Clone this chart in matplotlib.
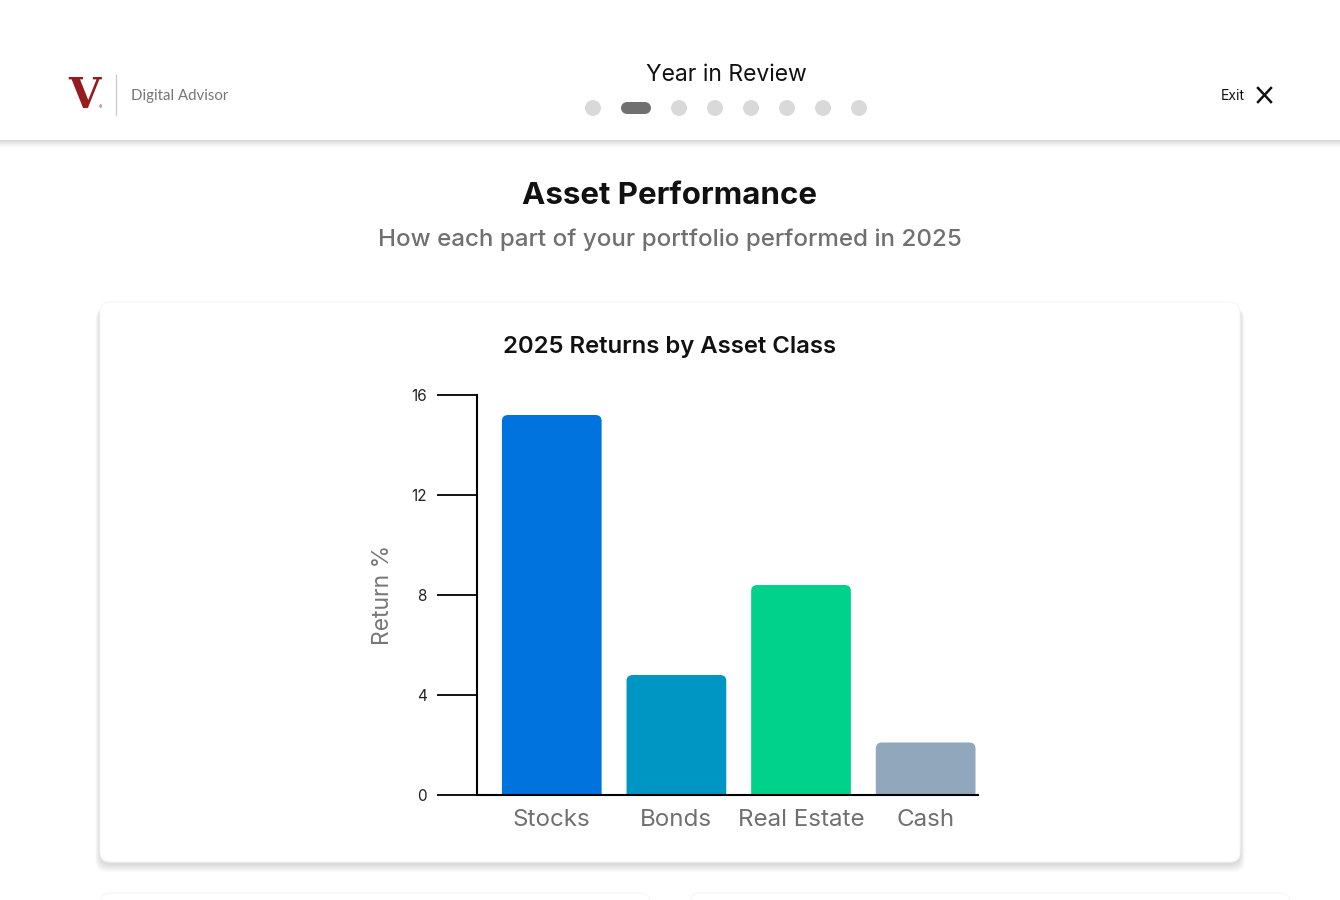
import matplotlib.pyplot as plt
from matplotlib.patches import FancyBboxPatch, Rectangle, Circle
from matplotlib.lines import Line2D

# Данные графика
categories = ["Stocks", "Bonds", "Real Estate", "Cash"]
returns = [15.2, 4.8, 8.4, 2.1]
bar_colors = ["#0073DF", "#0096C4", "#00D28C", "#90A7BC"]
y_ticks = [0, 4, 8, 12, 16]

step_count = 8
current_step = 1

plt.rcParams['font.family'] = ['Inter', 'DejaVu Sans']

fig = plt.figure(figsize=(13.4, 9), dpi=100)
fig.patch.set_facecolor("white")

# Фоновая ось в пикселях для оформления страницы
bg = fig.add_axes([0, 0, 1, 1], zorder=0)
bg.set_xlim(0, 1340)
bg.set_ylim(900, 0)
bg.axis("off")

# Шапка и её тень
for i in range(10):
    bg.add_patch(Rectangle((0, 140 + i), 1340, 1, fc="black",
                           alpha=0.16 * (1 - i / 10) ** 2, ec="none"))
bg.add_patch(Rectangle((0, 0), 1340, 140, fc="white", ec="none"))

# Логотип
bg.text(84, 96, "V", fontsize=30, fontweight="bold", color="#961B1E",
        family=["DejaVu Serif"], ha="center", va="center")
bg.text(100, 108, "®", fontsize=3.5, color="#961B1E", ha="center", va="center")
bg.add_line(Line2D([116, 116], [75, 115], color="#CCCCCC", lw=1))
bg.text(131, 96, "Digital Advisor", fontsize=10.8, color="#777777",
        family=["Lato", "DejaVu Sans"], ha="left", va="center")

bg.text(726, 75, "Year in Review", fontsize=16.5, color="#111111",
        ha="center", va="center")

# Индикатор шагов
x = 593
for i in range(step_count):
    if i == current_step:
        bg.add_patch(Rectangle((x - 9, 102), 18, 12, fc="#707070", ec="none"))
        bg.add_patch(Circle((x - 9, 108), 6, fc="#707070", ec="none"))
        bg.add_patch(Circle((x + 9, 108), 6, fc="#707070", ec="none"))
        x += 43
    else:
        bg.add_patch(Circle((x, 108), 8, fc="#D9D9D9", ec="none"))
        x += 36 if i != current_step - 1 else 43

bg.text(1233, 96, "Exit", fontsize=10, color="#111111", ha="center", va="center")
bg.add_line(Line2D([1258, 1271], [88, 102], color="#111111", lw=1.8))
bg.add_line(Line2D([1258, 1271], [102, 88], color="#111111", lw=1.8))

# Заголовки страницы
bg.text(670, 196, "Asset Performance", fontsize=22.5, fontweight="bold",
        color="#111111", ha="center", va="center")
bg.text(670, 240, "How each part of your portfolio performed in 2025",
        fontsize=17.4, fontweight="medium", color="#707070",
        ha="center", va="center")


def card(x0, y0, w, h):
    # мягкая тень, сильнее снизу
    for k in range(12, 0, -1):
        bg.add_patch(FancyBboxPatch((x0 - k * 0.4, y0 + 2 + k * 0.4), w + k * 0.8,
                                    h + k * 0.3,
                                    boxstyle="round,pad=0,rounding_size=12",
                                    fc="black", alpha=0.01, ec="none"))
    bg.add_patch(FancyBboxPatch((x0, y0), w, h,
                                boxstyle="round,pad=0,rounding_size=10",
                                fc="white", ec="#F5F5F5", lw=0.8))


card(100, 302, 1140, 560)
card(100, 893, 550, 120)
card(690, 893, 600, 120)

bg.text(670, 347, "2025 Returns by Asset Class", fontsize=17.2,
        fontweight="semibold", color="#111111", ha="center", va="center")

# Столбчатая диаграмма
ax = fig.add_axes([477 / 1340, 1 - 795 / 900, 501 / 1340, 400 / 900], zorder=2)
ax.patch.set_alpha(0)
bars = ax.bar(range(len(categories)), returns, width=0.8, color=bar_colors)

# Скругляем верхние углы столбцов
for bar in bars:
    bx, bw, bh = bar.get_x(), bar.get_width(), bar.get_height()
    rounded = FancyBboxPatch((bx, -1), bw, bh + 1,
                             boxstyle="round,pad=0,rounding_size=0.05",
                             mutation_aspect=4.8, fc=bar.get_facecolor(),
                             ec="none")
    ax.add_patch(rounded)
    bar.set_visible(False)

ax.set_xlim(-0.6, 3.42)
ax.set_ylim(0, 16)
ax.set_yticks(y_ticks)
ax.set_xticks(range(len(categories)))
ax.set_xticklabels(categories)

for side in ["top", "right"]:
    ax.spines[side].set_visible(False)
for side in ["left", "bottom"]:
    ax.spines[side].set_color("black")
    ax.spines[side].set_linewidth(1.5)

ax.tick_params(axis="y", length=29, width=1.3, pad=7, labelsize=11,
               labelcolor="#222222")
ax.tick_params(axis="x", length=0, pad=10, labelsize=17.4, labelcolor="#707070")

ax.set_ylabel("Return %", fontsize=16.5, color="#777777")
ax.yaxis.set_label_coords(-0.166, 0.5)

plt.savefig("out.png", dpi=100, facecolor="white")
